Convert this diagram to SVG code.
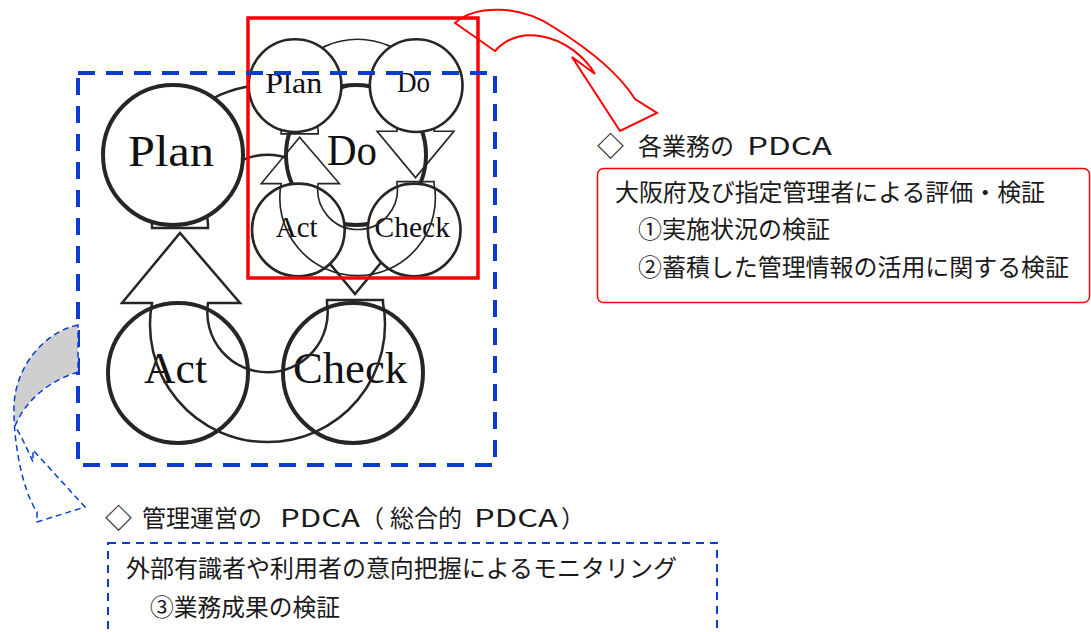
<svg xmlns="http://www.w3.org/2000/svg" width="1091" height="632" viewBox="0 0 1091 632">
<style>
.node circle{fill:#fff;stroke:#262626;stroke-width:4}
.conn path{fill:none;stroke:#262626;stroke-width:2.5;stroke-linejoin:miter}
.lbl{font-family:"Liberation Serif","DejaVu Serif",serif;font-size:44px;fill:#111}
.jp{font-family:"Noto Sans CJK JP","Noto Sans",sans-serif;font-size:24px;fill:#1a1a1a}
.dia{font-size:27px}
.bluedash{fill:none;stroke:#0b3bd1}
</style>
<rect width="1091" height="632" fill="#fff"/>

<!-- Overall PDCA (large) -->
<g id="main-pdca">
  <g id="main-act" class="node"><circle cx="178" cy="373" r="70"/><text class="lbl" x="144" y="383" textLength="63" lengthAdjust="spacingAndGlyphs">Act</text></g>
  <g id="main-check" class="node"><circle cx="353" cy="373" r="70"/><text class="lbl" x="293" y="383" textLength="114" lengthAdjust="spacingAndGlyphs">Check</text></g>
  <g id="main-connectors" class="conn">
    <path d="M152,228 L152,224 A117.5,117.5 0 1 1 383,224 L413,224 L355,294 L297,224 L327,224 A60.2,60.2 0 1 0 208,224 L208,228 Z"/>
    <path d="M383,300 L383,303 A117.5,117.5 0 1 1 152,303 L122,303 L180,233 L240,303 L208,303 A60.2,60.2 0 1 0 327,303 L327,300 Z"/>
  </g>
  <g id="main-plan" class="node"><circle cx="173" cy="155" r="70"/><text class="lbl" x="128" y="166" textLength="86" lengthAdjust="spacingAndGlyphs">Plan</text></g>
  <g id="main-do" class="node"><circle cx="356" cy="155" r="70"/><text class="lbl" x="327" y="165" textLength="50" lengthAdjust="spacingAndGlyphs">Do</text></g>
</g>

<!-- Per-task PDCA (small copy) -->
<g id="sub-pdca" transform="translate(180.5,-17) scale(0.662)">
  <g id="sub-act" class="node"><circle cx="178" cy="373" r="70"/><text class="lbl" x="144" y="383" textLength="63" lengthAdjust="spacingAndGlyphs">Act</text></g>
  <g id="sub-check" class="node"><circle cx="353" cy="373" r="70"/><text class="lbl" x="293" y="383" textLength="114" lengthAdjust="spacingAndGlyphs">Check</text></g>
  <g id="sub-connectors" class="conn">
    <path d="M152,228 L152,224 A117.5,117.5 0 1 1 383,224 L413,224 L355,294 L297,224 L327,224 A60.2,60.2 0 1 0 208,224 L208,228 Z"/>
    <path d="M383,300 L383,303 A117.5,117.5 0 1 1 152,303 L122,303 L180,233 L240,303 L208,303 A60.2,60.2 0 1 0 327,303 L327,300 Z"/>
  </g>
  <g id="sub-plan" class="node"><circle cx="173" cy="155" r="70"/><text class="lbl" x="128" y="166" textLength="86" lengthAdjust="spacingAndGlyphs">Plan</text></g>
  <g id="sub-do" class="node"><circle cx="356" cy="155" r="70"/><text class="lbl" x="327" y="165" textLength="50" lengthAdjust="spacingAndGlyphs">Do</text></g>
</g>

<!-- frames -->
<rect id="sub-frame" x="248" y="18" width="230" height="260" fill="none" stroke="#ff0000" stroke-width="3.5"/>
<rect id="main-frame" x="78" y="73" width="417" height="392" class="bluedash" stroke-width="4" stroke-dasharray="17 11"/>

<!-- callout arrows -->
<g id="callout-arrows">
  <path id="red-arrow" d="M455,23 C475,5 520,4 555,28 C590,50 620,75 635,99 L657,113 L620,131 L572,57 L595,74 C585,57 565,40 540,36 C520,33 505,40 495,51 Z" fill="none" stroke="#ff0000" stroke-width="2"/>
  <path id="blue-arrow-fill" d="M78,325 C45,332 16,365 14,405 L15,426 C25,402 46,382 78,372 Z" fill="#cfcfcf"/>
  <path id="blue-arrow" d="M78,325 C45,332 16,365 14,405 C13,440 22,490 37,512 L37,522 L85,507 L33,450 L33,462 C26,446 20,434 15,426 C25,402 46,382 78,372 Z" class="bluedash" stroke-width="1.5" stroke-dasharray="6 4"/>
</g>

<!-- per-task text block -->
<g id="sub-label">
  <text class="jp dia" x="597" y="156">◇</text>
  <text class="jp" x="638" y="155">各業務の</text>
  <text class="jp" x="747" y="155" textLength="85" lengthAdjust="spacingAndGlyphs">PDCA</text>
</g>
<g id="sub-box">
  <rect x="597.5" y="168.5" width="492" height="134" rx="6" fill="none" stroke="#ff0000" stroke-width="1.5"/>
  <text class="jp" x="615" y="201" textLength="430" lengthAdjust="spacingAndGlyphs">大阪府及び指定管理者による評価・検証</text>
  <text class="jp" x="638" y="238" textLength="192" lengthAdjust="spacingAndGlyphs">①実施状況の検証</text>
  <text class="jp" x="638" y="276" textLength="431" lengthAdjust="spacingAndGlyphs">②蓄積した管理情報の活用に関する検証</text>
</g>

<!-- overall text block -->
<g id="main-label">
  <text class="jp dia" x="105" y="528">◇</text>
  <text class="jp" x="142" y="527">管理運営の</text>
  <text class="jp" x="280" y="527" textLength="80" lengthAdjust="spacingAndGlyphs">PDCA</text>
  <text class="jp" x="360" y="527">（</text>
  <text class="jp" x="390" y="527">総合的</text>
  <text class="jp" x="474" y="527" textLength="84" lengthAdjust="spacingAndGlyphs">PDCA</text>
  <text class="jp" x="561" y="527">）</text>
</g>
<g id="main-box">
  <rect x="108" y="543" width="609" height="120" class="bluedash" stroke-width="2" stroke-dasharray="8 6"/>
  <text class="jp" x="126" y="577" textLength="551" lengthAdjust="spacingAndGlyphs">外部有識者や利用者の意向把握によるモニタリング</text>
  <text class="jp" x="150" y="616" textLength="190" lengthAdjust="spacingAndGlyphs">③業務成果の検証</text>
</g>
</svg>
